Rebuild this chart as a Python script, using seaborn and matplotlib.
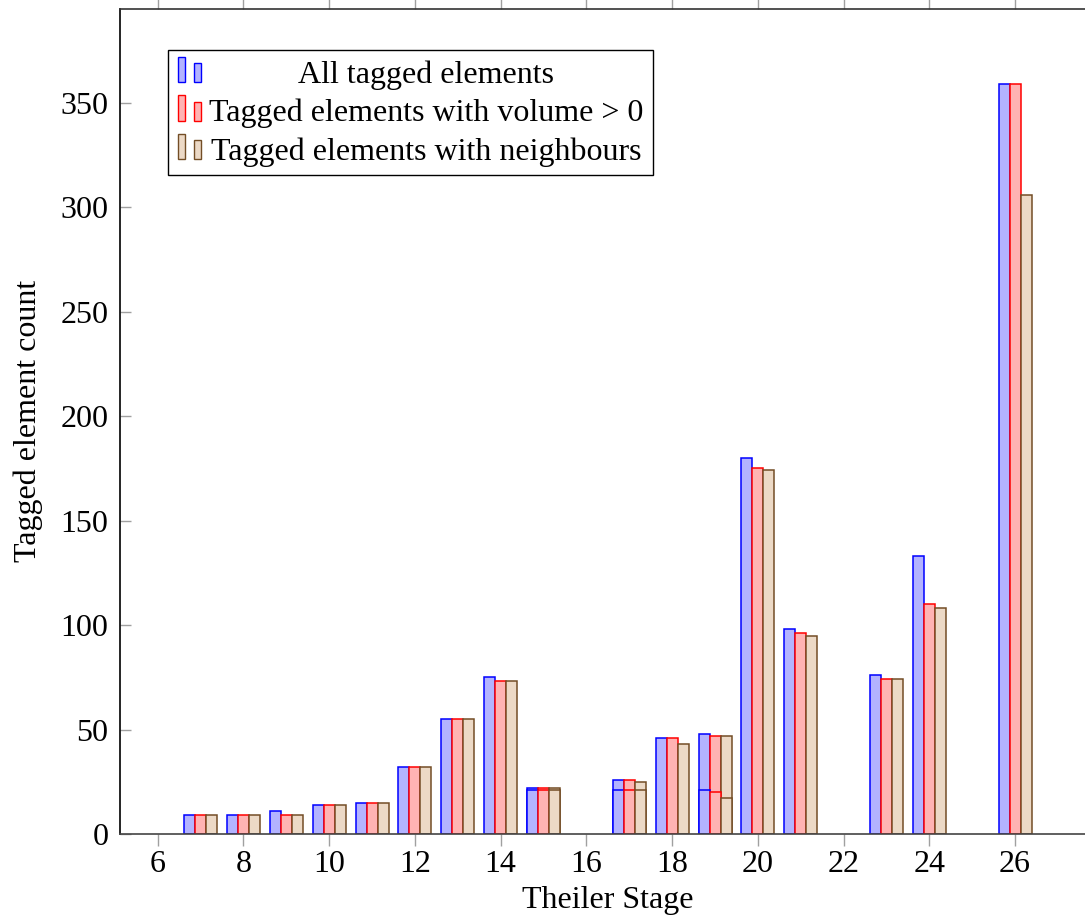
import matplotlib
matplotlib.use("Agg")
import matplotlib.pyplot as plt
from matplotlib.patches import Rectangle
import seaborn as sns
import pandas as pd

# ---- data ----
stages = [7, 8, 9, 10, 11, 12, 13, 14, 15, 17, 18, 19, 20, 21, 23, 24, 26]
all_tagged = [9, 9, 11, 14, 15, 32, 55, 75, 22, 26, 46, 48, 180, 98, 76, 133, 359]
with_volume = [9, 9, 9, 14, 15, 32, 55, 73, 22, 26, 46, 47, 175, 96, 74, 110, 359]
with_neighbours = [9, 9, 9, 14, 15, 32, 55, 73, 22, 25, 43, 47, 174, 95, 74, 108, 306]

# duplicated stage entries (drawn over the same positions)
extra_stages = [15, 17, 19]
extra_all = [21, 21, 21]
extra_volume = [21, 21, 20]
extra_neighbours = [21, 21, 17]

series_names = ["All tagged elements",
                "Tagged elements with volume > 0",
                "Tagged elements with neighbours"]
fill_colors = ["#b3b3ff", "#ffb3b3", "#ecd9c6"]
edge_colors = ["#0000ff", "#ff0000", "#734d26"]

x_ticks = [6, 8, 10, 12, 14, 16, 18, 20, 22, 24, 26]
y_ticks = [0, 50, 100, 150, 200, 250, 300, 350]


def long_frame(xs, cols):
    rows = []
    for name, vals in zip(series_names, cols):
        for x, v in zip(xs, vals):
            rows.append({"stage": x, "count": v, "series": name})
    return pd.DataFrame(rows)


df_main = long_frame(stages, [all_tagged, with_volume, with_neighbours])
df_extra = long_frame(extra_stages, [extra_all, extra_volume, extra_neighbours])

# ---- style ----
sns.set_style("white")
plt.rcParams["font.family"] = ["Liberation Serif", "DejaVu Serif"]
plt.rcParams["text.color"] = "black"
plt.rcParams["axes.labelcolor"] = "black"
plt.rcParams["xtick.color"] = "black"
plt.rcParams["ytick.color"] = "black"

FS = 23
W, H = 1085, 915
fig = plt.figure(figsize=(W / 100, H / 100), dpi=100)
ax_left, ax_right, ax_top, ax_bottom = 119.5, 1085, 8.5, 834
ax = fig.add_axes([ax_left / W, 1 - ax_bottom / H,
                   (ax_right - ax_left) / W, (ax_bottom - ax_top) / H])

pal = dict(zip(series_names, fill_colors))
group_width = 0.77
sns.barplot(data=df_main, x="stage", y="count", hue="series",
            hue_order=series_names, palette=pal, native_scale=True,
            width=group_width, errorbar=None, legend=False, saturation=1,
            linewidth=1.0, ax=ax)
sns.barplot(data=df_extra, x="stage", y="count", hue="series",
            hue_order=series_names, palette=pal, native_scale=True,
            width=group_width / 2, errorbar=None, legend=False, saturation=1,
            linewidth=1.0, ax=ax)

for i, cont in enumerate(ax.containers):
    ec = edge_colors[i % 3]
    for bar in cont:
        bar.set_edgecolor(ec)
        bar.set_linewidth(1.1)

ax.set_xlim(5.109, 27.63)
ax.set_ylim(0, 395.1)
ax.set_xticks(x_ticks)
ax.set_xticklabels([str(t) for t in x_ticks])
ax.set_yticks(y_ticks)
ax.set_yticklabels([str(t) for t in y_ticks])

ax.tick_params(axis="x", which="both", direction="out", length=8.3,
               width=1.0, color="#a0a0a0", top=True, bottom=True,
               labelsize=FS, pad=3.0, labelcolor="black")
ax.tick_params(axis="y", which="both", direction="in", length=8,
               width=1.0, color="#a0a0a0", left=True, right=False,
               labelsize=FS, pad=8, labelcolor="black")

for side in ["left", "top", "bottom"]:
    ax.spines[side].set_visible(True)
    ax.spines[side].set_linewidth(1.2)
ax.spines["left"].set_color("black")
ax.spines["top"].set_color("#333333")
ax.spines["bottom"].set_color("#444444")
ax.spines["right"].set_visible(False)

ax.set_xlabel("Theiler Stage", fontsize=FS, color="black")
ax.set_ylabel("Tagged element count", fontsize=FS, color="black")
ax.xaxis.set_label_coords((608 - ax_left) / (ax_right - ax_left),
                          (ax_bottom - 886) / (ax_bottom - ax_top))
ax.yaxis.set_label_coords((43 - ax_left) / (ax_right - ax_left), 0.5)

# ---- legend (pgfplots-style, drawn in figure pixels) ----
def fx(px):
    return px / W


def fy(py):
    return 1 - py / H


fig.add_artist(Rectangle((fx(168), fy(175)), (653 - 168) / W, (175 - 50) / H,
                         transform=fig.transFigure, facecolor="white",
                         edgecolor="black", linewidth=1.0, zorder=5))
baselines = [83, 121.5, 160]
for name, fc, ec, b in zip(series_names, fill_colors, edge_colors, baselines):
    fig.add_artist(Rectangle((fx(177.5), fy(b - 1)), 7 / W, 25 / H,
                             transform=fig.transFigure, facecolor=fc,
                             edgecolor=ec, linewidth=1.0, zorder=6))
    fig.add_artist(Rectangle((fx(193.5), fy(b - 1)), 7.5 / W, 19 / H,
                             transform=fig.transFigure, facecolor=fc,
                             edgecolor=ec, linewidth=1.0, zorder=6))
    fig.text(fx(426), fy(b), name, ha="center", va="baseline",
             fontsize=FS, color="black", zorder=7)

fig.savefig("out.png", dpi=100)
